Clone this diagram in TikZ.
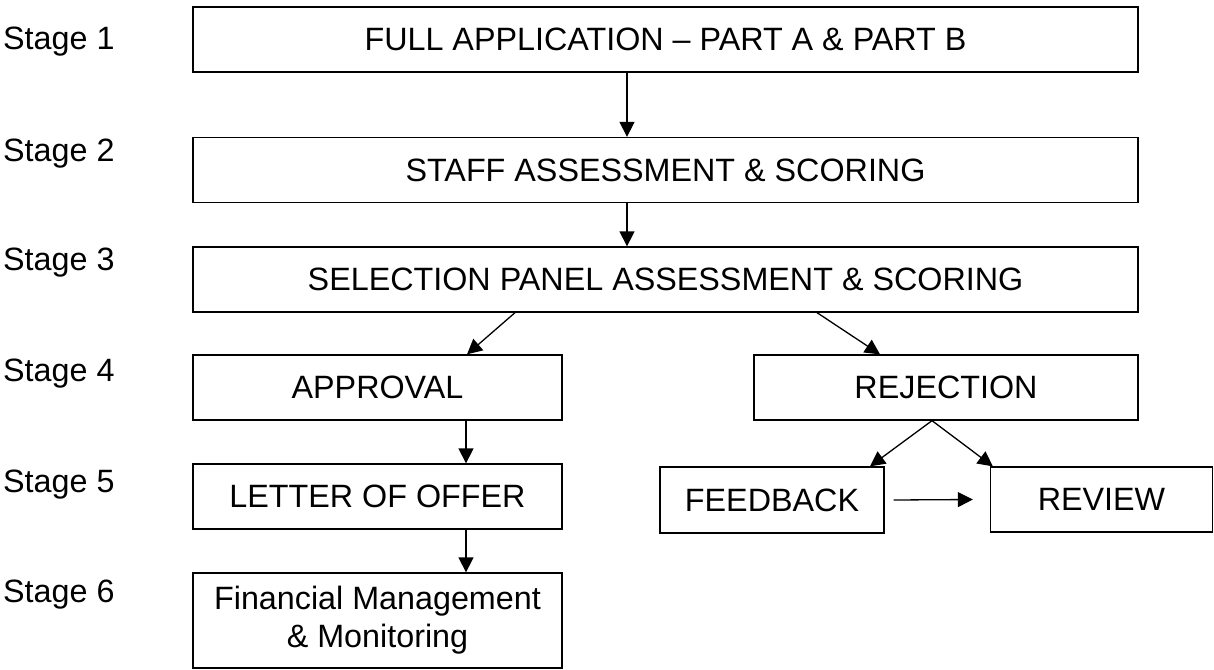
\documentclass[tikz,border=0pt]{standalone}
\usepackage{fontspec}
\setmainfont{Liberation Sans}
\usetikzlibrary{arrows.meta}
\begin{document}
\begin{tikzpicture}[x=1pt, y=-1pt,
		font=\fontsize{32.3}{38}\selectfont,
		box/.style={draw, line width=1.3pt, inner sep=0pt, minimum height=65pt, align=center},
		stagelabel/.style={anchor=base west, inner sep=0pt},
		arr/.style={line width=1.3pt, -{Triangle[length=15pt, width=15pt]}}]
		\useasboundingbox (0,0) rectangle (1214,669);
		
		\node[stagelabel] (s1) at (3,50)   {Stage 1};
		\node[stagelabel] (s2) at (3,161)  {Stage 2};
		\node[stagelabel] (s3) at (3,270)  {Stage 3};
		\node[stagelabel] (s4) at (3,381)  {Stage 4};
		\node[stagelabel] (s5) at (3,492)  {Stage 5};
		\node[stagelabel] (s6) at (3,602)  {Stage 6};
		
		\node[box, minimum width=945pt] (app)   at (665.5,39.5)  {FULL APPLICATION – PART A \& PART B};
		\node[box, minimum width=945pt] (staff) at (665.5,170)   {STAFF ASSESSMENT \& SCORING};
		\node[box, minimum width=945pt] (panel) at (665.5,279.5) {SELECTION PANEL ASSESSMENT \& SCORING};
		\node[box, minimum width=369pt] (approval)  at (377.5,387.5) {APPROVAL};
		\node[box, minimum width=384pt] (rejection) at (946,387.5)   {REJECTION};
		\node[box, minimum width=369pt] (offer)     at (377.5,496.5) {LETTER OF OFFER};
		\node[box, minimum width=369pt, minimum height=95pt] (finance) at (377.5,620.5) {Financial Management\\ \& Monitoring};
		\node[box, minimum width=224pt, minimum height=66pt] (feedback) at (772,500)    {FEEDBACK};
		\node[box, minimum width=222pt] (review)   at (1101.5,499.5) {REVIEW};
		
		\draw[arr] ([xshift=-38.5pt]app.south) -- ([xshift=-38.5pt]staff.north);
		\draw[arr] ([xshift=-38.5pt]staff.south) -- ([xshift=-38.5pt]panel.north);
		\draw[arr] ([xshift=-150.5pt]panel.south) -- ([xshift=89.5pt]approval.north);
		\draw[arr] ([xshift=151.5pt]panel.south) -- ([xshift=-66pt]rejection.north);
		\draw[arr] ([xshift=88.5pt]approval.south) -- ([xshift=88.5pt]offer.north);
		\draw[arr] ([xshift=88.5pt]offer.south) -- ([xshift=88.5pt]finance.north);
		\draw[arr] ([xshift=-14pt]rejection.south) -- ([xshift=98pt]feedback.north);
		\draw[arr] ([xshift=-14pt]rejection.south) -- ([xshift=3pt]review.north west);
		\draw[arr] ([xshift=9pt]feedback.east) -- ([xshift=-17pt]review.west);
\end{tikzpicture}
\end{document}
